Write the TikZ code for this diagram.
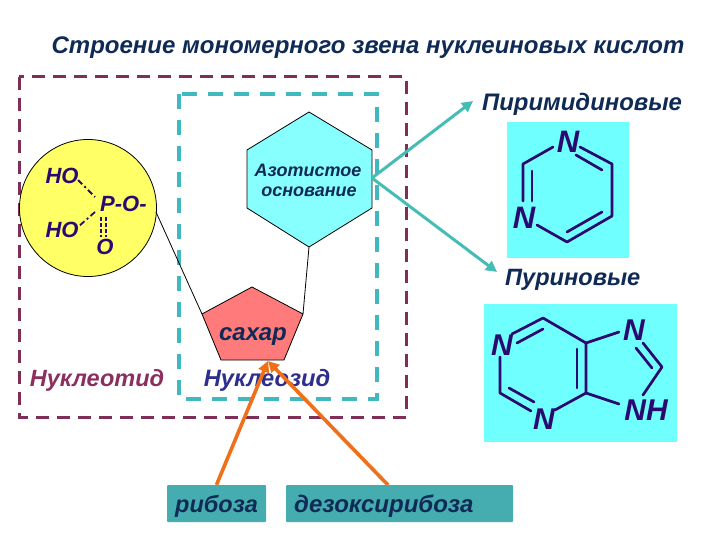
\documentclass[tikz,border=0pt]{standalone}
\usepackage{fontspec}
\setmainfont{Liberation Sans}
\usetikzlibrary{arrows.meta}
\definecolor{outerc}{HTML}{7F2F57}
\definecolor{innerc}{HTML}{40B8C0}
\definecolor{arrowc}{HTML}{45BDB5}
\definecolor{orangec}{HTML}{F0701A}
\definecolor{cyanc}{HTML}{70FFFF}
\definecolor{hexc}{HTML}{88FFFF}
\definecolor{yellowc}{HTML}{FFFF66}
\definecolor{pinkc}{HTML}{FF7B7B}
\definecolor{boxc}{HTML}{45ADB0}
\definecolor{navyc}{HTML}{0F2A55}
\definecolor{molc}{HTML}{2A0A70}
\definecolor{nucc}{HTML}{2E2E8E}
\definecolor{ntc}{HTML}{8A2F60}
\tikzset{
 lbl/.style={font=\bfseries\itshape\fontsize{#1}{#1}\selectfont,text=navyc,inner sep=0pt},
 lbl/.default=21,
 mol/.style={font=\bfseries\itshape\fontsize{#1}{#1}\selectfont,text=molc,inner sep=0pt},
 bond/.style={draw=molc,line width=2.7pt,line cap=round,line join=round},
 thinbond/.style={draw=molc,line width=1.8pt,dash pattern=on 4pt off 2pt},
 shapeline/.style={draw=black,line width=0.8pt},
 tealarrow/.style={draw=arrowc,line width=3pt,-{Triangle[length=11pt,width=11pt]}},
 orangearrow/.style={draw=orangec,line width=3.6pt,-{Triangle[length=11pt,width=11pt]}}
}
\begin{document}
\begin{tikzpicture}[x=1pt,y=-1pt]
\useasboundingbox (0,0) rectangle (720,540);
\fill[white] (0,0) rectangle (720,540);
\node[lbl=24,anchor=center] (title) at (368,48) {Строение мономерного звена нуклеиновых кислот};
% dashed frames
\draw[outerc,line width=3pt,dash pattern=on 13pt off 8pt] (19,77) rectangle (406,417);
\draw[innerc,line width=4pt,dash pattern=on 15pt off 11pt] (179,94) rectangle (377,399);
% coordinates
\coordinate (hT) at (309,112); \coordinate (hUR) at (372,150); \coordinate (hLR) at (372,208);
\coordinate (hB) at (309,247); \coordinate (hLL) at (247,208); \coordinate (hUL) at (247,150);
\coordinate (hR) at (372,178);
\coordinate (pT) at (252,287); \coordinate (pR) at (303,314); \coordinate (pBR) at (284,360);
\coordinate (pBL) at (221,360); \coordinate (pL) at (202,314); \coordinate (pB) at (268,361);
\coordinate (cE) at (156,212);
% shapes
\node[circle,draw=black,line width=0.8pt,fill=yellowc,minimum size=137pt,inner sep=0pt] (circ) at (88,208) {};
\filldraw[shapeline,fill=hexc] (hT)--(hUR)--(hLR)--(hB)--(hLL)--(hUL)--cycle;
\filldraw[shapeline,fill=pinkc] (pT)--(pR)--(pBR)--(pBL)--(pL)--cycle;
\draw[shapeline] (cE)--(pL);
\draw[shapeline] (hB)--(pR);
% labels in shapes
\node[lbl=18] (az) at (308,170) {Азотистое};
\node[lbl=18] (os) at (309,192) {основание};
\node[lbl=24] (sa) at (253,337) {сахар};
\node[lbl=23.5,text=ntc] (nt) at (97,380) {Нуклеотид};
\node[lbl=23.7,text=nucc] (ns) at (267,380) {Нуклеозид};
% phosphate
\node[mol=22] (ho1) at (62,176) {HO};
\node[mol=22] (ho2) at (62,230) {HO};
\node[mol=22,anchor=west] (po) at (100,204) {P-O-};
\node[mol=22] (o) at (105,247) {O};
\draw[draw=molc,line width=1.8pt,dash pattern=on 6pt off 3pt on 2pt off 3pt] (78,180)--(95,197);
\draw[draw=molc,line width=1.8pt,dash pattern=on 6pt off 3pt on 2pt off 3pt] (95,212)--(78,227);
\draw[thinbond] (101,217)--(101,237);
\draw[thinbond] (106,217)--(106,237);
% boxes
\fill[cyanc] (507,122) rectangle (629,258);
\fill[cyanc] (484,304) rectangle (677,442);
\node[fill=boxc,minimum width=99pt,minimum height=37pt,inner sep=0pt,rounded corners=1pt] (rb) at (216.5,503.5) {};
\node[fill=boxc,minimum width=227pt,minimum height=37pt,inner sep=0pt,rounded corners=1pt] (dr) at (399.5,503.5) {};
\node[lbl=23.5] at (216.5,506) {рибоза};
\node[lbl=24,anchor=west] at (294,506) {дезоксирибоза};
% arrow labels
\node[lbl=23.9,anchor=west] (pir) at (482,104) {Пиримидиновые};
\node[lbl=23.6,anchor=west] (pur) at (505,280) {Пуриновые};
% arrows
\draw[tealarrow] (hR)--(473,101);
\draw[tealarrow] (hR)--(497,272);
\draw[orangearrow] (rb.north)--(pB);
\draw[orangearrow] (388,485)--(pB);
% pyrimidine
\node[mol=31] (n1) at (568,142) {N};
\node[mol=31] (n2) at (524,218) {N};
\draw[bond] (553,147)--(523,164)--(523,201);
\draw[bond] (532,171)--(532,201);
\draw[bond] (580,147)--(612,164)--(612,216)--(567,242)--(537,225);
\draw[bond] (576,155)--(602,170);
\draw[bond] (602,212)--(567,232);
% purine
\node[mol=30] (n3) at (502,345) {N};
\node[mol=30] (n4) at (634,330) {N};
\node[mol=30] (n5) at (544,419) {N};
\node[mol=30] (n6) at (646,410) {NH};
\draw[bond] (512,334)--(543,318)--(586,343)--(619,332);
\draw[bond] (517,343)--(543,329);
\draw[bond] (500,357)--(500,393)--(531,411);
\draw[bond] (509,388)--(534,402);
\draw[bond] (555,410)--(586,393)--(586,343);
\draw[bond] (577,349)--(577,388);
\draw[bond] (586,393)--(619,404);
\draw[bond] (643,343)--(662,367)--(643,395);
\draw[bond] (636,348)--(652,368);
\end{tikzpicture}
\end{document}
